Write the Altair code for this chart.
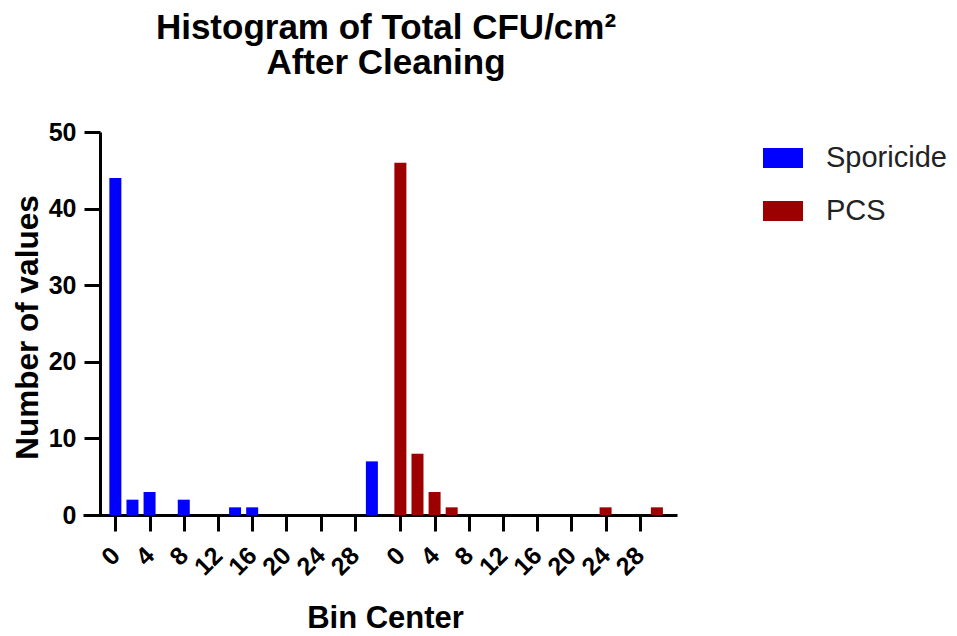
import altair as alt
import pandas as pd

# ---- data ----
bin_centers = [0, 2, 4, 6, 8, 10, 12, 14, 16, 18, 20, 22, 24, 26, 28, 30]
sporicide_counts = [44, 2, 3, 0, 2, 0, 0, 1, 1, 0, 0, 0, 0, 0, 0, 7]
pcs_counts = [46, 8, 3, 1, 0, 0, 0, 0, 0, 0, 0, 0, 1, 0, 0, 1]
groups = ["Sporicide", "PCS"]
group_colors = ["#0000FF", "#9C0000"]
tick_labels = [0, 4, 8, 12, 16, 20, 24, 28]
y_ticks = [0, 10, 20, 30, 40, 50]

GROUP_OFFSET = 100 / 3  # horizontal shift of the PCS block on the shared axis
FONT = "Liberation Sans"

rows = []
for b, s, p in zip(bin_centers, sporicide_counts, pcs_counts):
    rows.append({"group": "Sporicide", "bin": b, "count": s})
    rows.append({"group": "PCS", "bin": b, "count": p})
df = pd.DataFrame(rows)

tick_values = [t for t in tick_labels] + [t + GROUP_OFFSET for t in tick_labels]

bars = (
    alt.Chart(df)
    .transform_filter("datum.count > 0")
    .transform_calculate(pos=f"datum.group === 'PCS' ? datum.bin + {GROUP_OFFSET} : datum.bin")
    .mark_bar(size=12)
    .encode(
        x=alt.X(
            "pos:Q",
            scale=alt.Scale(domain=[-3.2, 65.1], nice=False, zero=False),
            axis=alt.Axis(
                values=tick_values,
                labelExpr=f"datum.value > 32 ? format(datum.value - {GROUP_OFFSET}, '.0f') : format(datum.value, '.0f')",
                title="Bin Center",
                labelAngle=-45,
                labelAlign="right",
                labelBaseline="middle",
                labelPadding=20,
                labelOverlap=False,
                labelFlush=False,
                titleX=302,
                titleY=112,
                titleBaseline="alphabetic",
                titleAlign="center",
            ),
        ),
        y=alt.Y(
            "count:Q",
            scale=alt.Scale(domain=[0, 50], nice=False),
            axis=alt.Axis(
                values=y_ticks,
                title="Number of values",
                offset=-17,
                labelPadding=8,
                labelOverlap=False,
                titleAngle=-90,
                titleX=-63,
                titleY=195,
                titleAlign="center",
                titleBaseline="alphabetic",
                titleFontSize=31.5,
            ),
        ),
        color=alt.Color(
            "group:N",
            scale=alt.Scale(domain=groups, range=group_colors),
            legend=alt.Legend(
                title=None,
                orient="none",
                legendX=680,
                legendY=6,
                symbolType="M-1,-0.5H1V0.5H-1Z",
                symbolSize=1600,
                symbolStrokeWidth=0,
                labelFontSize=29,
                labelFont=FONT,
                labelColor="#222222",
                labelOffset=23,
                labelLimit=300,
                rowPadding=18,
                padding=0,
            ),
        ),
    )
)

chart = (
    bars.properties(
        width=594,
        height=383,
        autosize=alt.AutoSizeParams(type="none"),
        padding={"left": 75, "top": 124, "right": 272, "bottom": 118},
        title=alt.Title(
            ["Histogram of Total CFU/cm²", "After Cleaning"],
            fontSize=35,
            font=FONT,
            fontWeight="bold",
            color="black",
            lineHeight=35.5,
            offset=39,
            dx=6,
            anchor="middle",
        ),
    )
    .configure_view(stroke=None)
    .configure_axis(
        grid=False,
        domainColor="black",
        domainWidth=3,
        tickColor="black",
        tickWidth=3,
        tickSize=16,
        labelFont=FONT,
        labelFontWeight="bold",
        labelFontSize=25,
        labelColor="black",
        titleFont=FONT,
        titleFontWeight="bold",
        titleFontSize=31,
        titleColor="black",
    )
)

chart.save("out.html", embed_options={"renderer": "svg", "actions": False})
